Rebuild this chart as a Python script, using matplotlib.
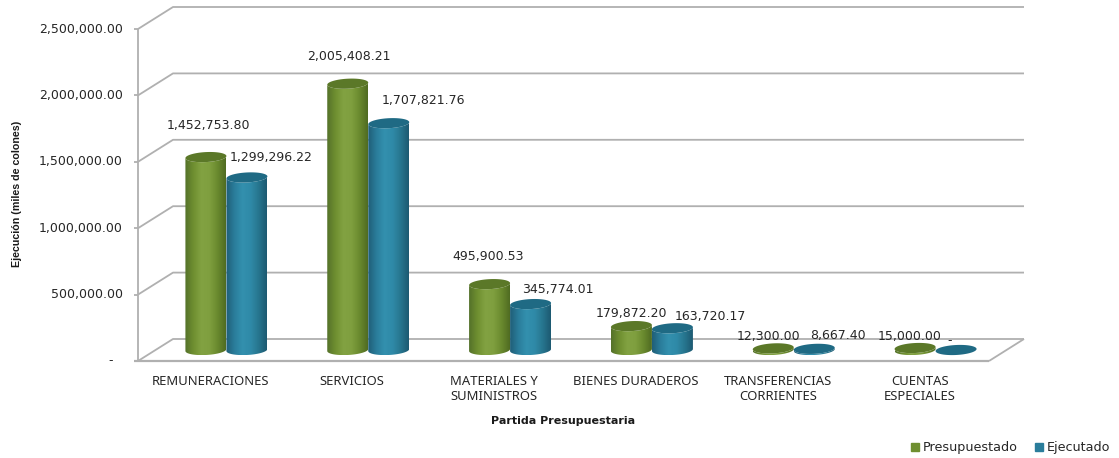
import numpy as np
import matplotlib
matplotlib.use("Agg")
from matplotlib import pyplot as plt
from matplotlib.colors import LinearSegmentedColormap
from matplotlib.patches import Patch, Polygon

CATEGORIES = ["REMUNERACIONES", "SERVICIOS", "MATERIALES Y\nSUMINISTROS", "BIENES DURADEROS",
	"TRANSFERENCIAS\nCORRIENTES", "CUENTAS\nESPECIALES"]
PRESUPUESTADO = [1452753.80, 2005408.21, 495900.53, 179872.20, 12300.00, 15000.00]
EJECUTADO = [1299296.22, 1707821.76, 345774.01, 163720.17, 8667.40, 0.0]
Y_TICKS = [0, 500000, 1000000, 1500000, 2000000, 2500000]

# label offsets from the top of each cylinder, in pixels
OFFS_PRES = [(3, 32), (1, 27), (-1, 28), (0, 13), (-5, 12), (-5, 12)]
OFFS_EJEC = [(24, 20), (35, 23), (27, 15), (38, 12), (24, 13), (-6, 9)]

W, H = 1119, 458
LEFT, RIGHT, BOTTOM, TOP = 138, 989, 361, 29
DEPTH_PX = (35, 22)
BAR_PX = 41
TILT = 0.05
RY = 5

GRID = "#b0b0b0"
TEXT = "#262626"

green = LinearSegmentedColormap.from_list("g", ["#55722a", "#6f8f30", "#82a242", "#7f9f3f", "#6a8a2e", "#506c22"])
blue = LinearSegmentedColormap.from_list("b", ["#205f78", "#2a7d9b", "#3390ae", "#2f8aa8", "#27768f", "#1d5a72"])

fig = plt.figure(figsize=(W / 100, H / 100), dpi=100)
ax = fig.add_axes([LEFT / W, (H - BOTTOM) / H, (RIGHT - LEFT) / W, (BOTTOM - TOP) / H])
ax.set_xlim(0, len(CATEGORIES))
ax.set_ylim(0, 2500000)
ax.axis("off")

# px to data units
ux = len(CATEGORIES) / (RIGHT - LEFT)
uy = 2500000 / (BOTTOM - TOP)
dep_x, dep_y = DEPTH_PX[0] * ux, DEPTH_PX[1] * uy


def line(xs, ys, lw=1.3):
	ax.plot(xs, ys, color=GRID, lw=lw, clip_on=False, zorder=1, solid_capstyle="butt")


xmax = len(CATEGORIES)
for v in Y_TICKS:
	line([0, dep_x, xmax + dep_x], [v, v + dep_y, v + dep_y])
	line([-4 * ux, 0], [v, v])
line([0, 0], [0, 2500000])
line([-4 * ux, xmax], [0, 0], lw=1.6)
line([xmax, xmax + dep_x], [0, dep_y])


def ellipse_arc(cx, cy, t):
	# slightly tilted ellipse, rising to the right
	x = BAR_PX / 2 * np.cos(t)
	y = RY * np.sin(t) + TILT * x
	return cx + x * ux, cy + y * uy


def cylinder(cx, value, cmap, top_color):
	base = dep_y / 2
	t = np.linspace(np.pi, 2 * np.pi, 40)
	xb, yb = ellipse_arc(cx, base, t)
	xt, yt = ellipse_arc(cx, base + value, t[::-1])
	body = np.column_stack([np.r_[xb, xt], np.r_[yb, yt]])
	patch = Polygon(body, closed=True, facecolor="none", edgecolor="none")
	ax.add_patch(patch)
	grad = np.linspace(0, 1, 64).reshape(1, -1)
	extent = [body[:, 0].min(), body[:, 0].max(), body[:, 1].min(), body[:, 1].max()]
	im = ax.imshow(grad, cmap=cmap, extent=extent, aspect="auto", zorder=3, interpolation="bilinear")
	im.set_clip_path(patch)
	tt = np.linspace(0, 2 * np.pi, 60)
	xe, ye = ellipse_arc(cx, base + value, tt)
	ax.fill(xe, ye, color=top_color, zorder=4, lw=0, clip_on=False)


def value_label(cx, value, off):
	txt = f"{value:,.2f}" if value > 0 else "-"
	ax.annotate(txt, xy=(cx, value + dep_y / 2), xytext=off, textcoords="offset pixels",
		ha="center", va="center", fontsize=9, color=TEXT, family="DejaVu Sans", zorder=6,
		annotation_clip=False)


for i in range(len(CATEGORIES)):
	center = i + 0.5 + dep_x / 2
	cg = center - BAR_PX / 2 * ux
	cb = center + BAR_PX / 2 * ux
	cylinder(cb, EJECUTADO[i], blue, "#1f6a84")
	cylinder(cg, PRESUPUESTADO[i], green, "#5b7828")
	value_label(cg, PRESUPUESTADO[i], OFFS_PRES[i])
	value_label(cb, EJECUTADO[i], OFFS_EJEC[i])
	ax.text(i + 0.5 + 1.5 * ux, -14 * uy, CATEGORIES[i], ha="center", va="top", fontsize=9.4, color=TEXT,
		family="Noto Sans", linespacing=1.2, clip_on=False)

ax.set_xlim(0, len(CATEGORIES))
ax.set_ylim(0, 2500000)

for v in Y_TICKS:
	txt = f"{v:,.2f}" if v > 0 else "-"
	x = -15 * ux if v > 0 else -25 * ux
	ax.text(x, v, txt, ha="right", va="center", fontsize=9, color=TEXT, family="DejaVu Sans", clip_on=False)

ax.text(xmax / 2, -60 * uy, "Partida Presupuestaria", ha="center", va="center", fontsize=8,
	fontweight="bold", color="#1a1a1a", family="DejaVu Sans", clip_on=False)
fig.text(17 / W, 1 - 194 / H, "Ejecución (miles de colones)", rotation=90, ha="center", va="center",
	fontsize=7.7, fontweight="bold", color="#1a1a1a", family="Liberation Sans")

handles = [Patch(color="#6f8f30", label="Presupuestado"), Patch(color="#2a7d9b", label="Ejecutado")]
fig.legend(handles=handles, ncol=2, frameon=False, loc="center right", bbox_to_anchor=(1110 / W, 1 - 448 / H),
	prop={"family": "DejaVu Sans", "size": 9.2}, labelcolor=TEXT, handlelength=0.6, handleheight=0.6,
	handletextpad=0.3, columnspacing=1.35, borderpad=0, borderaxespad=0)

fig.savefig("out.png", dpi=100)
